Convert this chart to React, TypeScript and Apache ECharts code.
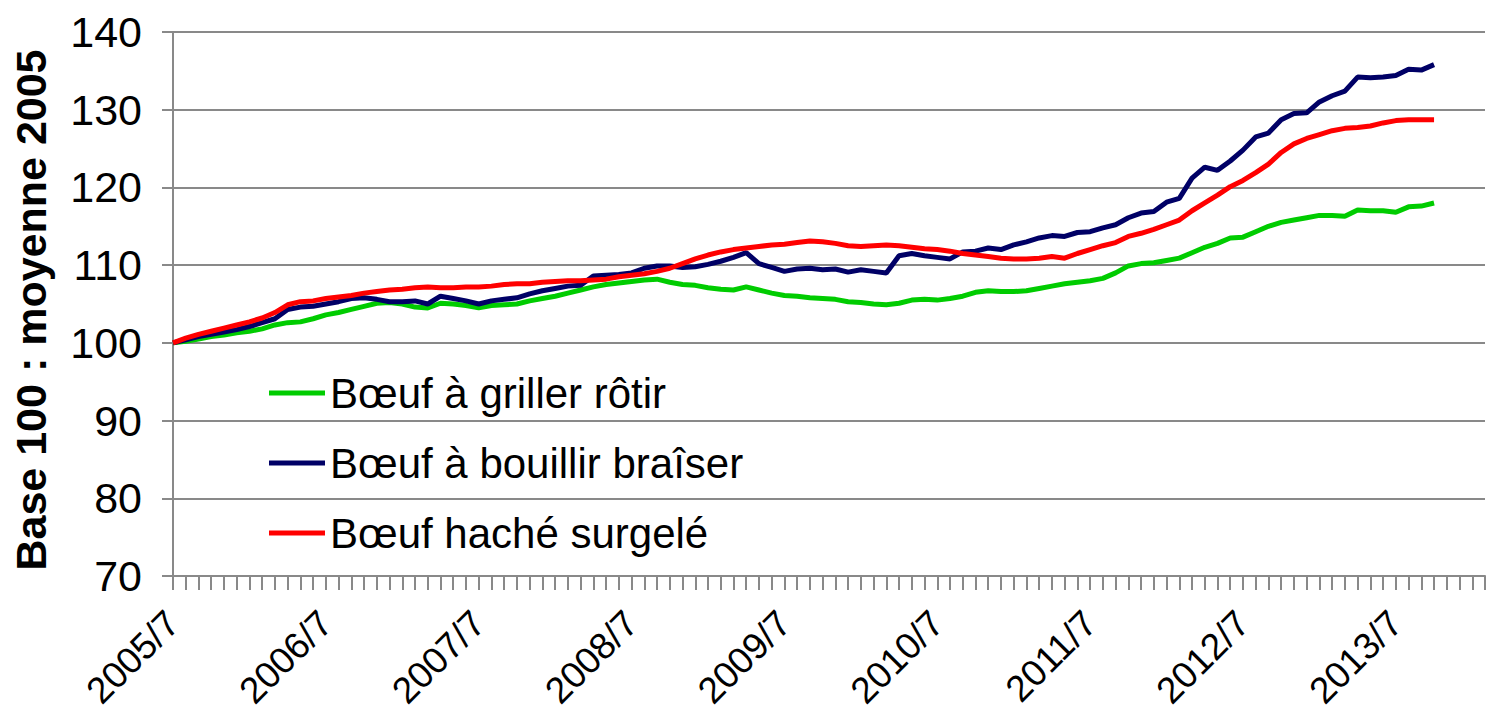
import React, { useEffect, useRef } from "react";
import * as echarts from "echarts";

// Monthly categories 2005/7 .. 2014/2
const months: string[] = [];
for (let y = 2005, m = 7; months.length < 104; ) {
  months.push(`${y}/${m}`);
  m++;
  if (m > 12) { m = 1; y++; }
}

const seriesNames = ["Bœuf à griller rôtir", "Bœuf à bouillir braîser", "Bœuf haché surgelé"];

const grillerRotir = [
  100.0, 100.2, 100.5, 100.8, 101.0, 101.3, 101.5, 101.8, 102.3, 102.6,
  102.7, 103.1, 103.6, 103.9, 104.3, 104.7, 105.1, 105.2, 105.0, 104.6,
  104.5, 105.1, 105.0, 104.8, 104.5, 104.8, 104.9, 105.0, 105.4, 105.7,
  106.0, 106.4, 106.8, 107.2, 107.5, 107.7, 107.9, 108.1, 108.2, 107.8,
  107.5, 107.4, 107.1, 106.9, 106.8, 107.2, 106.8, 106.4, 106.1, 106.0,
  105.8, 105.7, 105.6, 105.3, 105.2, 105.0, 104.9, 105.1, 105.5, 105.6,
  105.5, 105.7, 106.0, 106.5, 106.7, 106.6, 106.6, 106.7, 107.0, 107.3,
  107.6, 107.8, 108.0, 108.3, 109.0, 109.9, 110.2, 110.3, 110.6, 110.9,
  111.6, 112.3, 112.8, 113.5, 113.6, 114.3, 115.0, 115.5, 115.8, 116.1,
  116.4, 116.4, 116.3, 117.1, 117.0, 117.0, 116.8, 117.5, 117.6, 118.0,
];

const bouillirBraiser = [
  100.0, 100.4, 100.8, 101.1, 101.4, 101.7, 102.1, 102.6, 103.1, 104.3,
  104.6, 104.7, 105.0, 105.3, 105.7, 105.8, 105.6, 105.3, 105.3, 105.4,
  105.0, 106.0, 105.7, 105.4, 105.0, 105.4, 105.6, 105.8, 106.3, 106.7,
  107.0, 107.3, 107.4, 108.6, 108.7, 108.8, 109.0, 109.6, 109.9, 109.9,
  109.7, 109.8, 110.1, 110.5, 111.0, 111.6, 110.2, 109.7, 109.2, 109.5,
  109.6, 109.4, 109.5, 109.1, 109.4, 109.2, 109.0, 111.2, 111.5, 111.2,
  111.0, 110.8, 111.7, 111.8, 112.2, 112.0, 112.6, 113.0, 113.5, 113.8,
  113.7, 114.2, 114.3, 114.8, 115.2, 116.1, 116.7, 116.9, 118.1, 118.6,
  121.2, 122.6, 122.2, 123.4, 124.8, 126.5, 127.0, 128.7, 129.5, 129.6,
  131.0, 131.8, 132.4, 134.2, 134.1, 134.2, 134.4, 135.2, 135.1, 135.8,
];

const hacheSurgele = [
  100.0, 100.6, 101.1, 101.5, 101.9, 102.3, 102.7, 103.2, 103.9, 104.9,
  105.3, 105.4, 105.7, 105.9, 106.1, 106.4, 106.6, 106.8, 106.9, 107.1,
  107.2, 107.1, 107.1, 107.2, 107.2, 107.3, 107.5, 107.6, 107.6, 107.8,
  107.9, 108.0, 108.0, 108.1, 108.2, 108.5, 108.7, 108.9, 109.2, 109.6,
  110.2, 110.8, 111.3, 111.7, 112.0, 112.2, 112.4, 112.6, 112.7, 112.9,
  113.1, 113.0, 112.8, 112.5, 112.4, 112.5, 112.6, 112.5, 112.3, 112.1,
  112.0, 111.8, 111.5, 111.3, 111.1, 110.9, 110.8, 110.8, 110.9, 111.1,
  110.9, 111.5, 112.0, 112.5, 112.9, 113.7, 114.1, 114.6, 115.2, 115.8,
  117.0, 118.0, 119.0, 120.1, 120.9, 121.9, 123.0, 124.5, 125.6, 126.3,
  126.8, 127.3, 127.6, 127.7, 127.9, 128.3, 128.6, 128.7, 128.7, 128.7,
];

const colors = ["#00CC00", "#000066", "#FF0000"];
const yTitle = "Base 100 : moyenne 2005";

export default function App() {
  const ref = useRef<HTMLDivElement>(null);
  useEffect(() => {
    if (!ref.current) return;
    const chart = echarts.init(ref.current, undefined, { renderer: "svg" });
    const font = "'Liberation Sans', Arial, sans-serif";
    const gray = "#898989";
    chart.setOption({
      animation: false,
      backgroundColor: "#ffffff",
      textStyle: { fontFamily: font },
      grid: {
        left: 173,
        right: 8,
        top: 32,
        bottom: 146,
        containLabel: false,
        outerBoundsMode: "none",
      },
      legend: {
        orient: "vertical",
        left: 264,
        top: 367,
        itemWidth: 56,
        itemHeight: 5,
        itemGap: 28,
        icon: "rect",
        textStyle: { fontSize: 42, color: "#000", fontFamily: font, lineHeight: 42 },
        data: seriesNames,
      },
      xAxis: {
        type: "category",
        data: months,
        boundaryGap: false,
        axisLine: { lineStyle: { color: gray, width: 2 } },
        axisTick: { show: true, interval: 0, length: 14, lineStyle: { color: gray, width: 2 } },
        axisLabel: {
          interval: 11,
          rotate: 45,
          fontSize: 37,
          color: "#000",
          margin: 41,
          fontFamily: font,
        },
        splitLine: { show: false },
      },
      yAxis: {
        type: "value",
        min: 70,
        max: 140,
        interval: 10,
        name: yTitle,
        nameLocation: "middle",
        nameRotate: 90,
        nameGap: 121,
        nameTextStyle: {
          fontSize: 43,
          fontWeight: "bold",
          color: "#000",
          fontFamily: font,
          padding: [0, 12, 0, 0],
        },
        axisLine: { show: true, lineStyle: { color: gray, width: 2 } },
        axisTick: { show: true, length: 11, lineStyle: { color: gray, width: 2 } },
        axisLabel: { fontSize: 43, color: "#000", margin: 31, fontFamily: font },
        splitLine: { show: true, lineStyle: { color: gray, width: 2 } },
      },
      series: [
        { name: seriesNames[0], data: grillerRotir, color: colors[0] },
        { name: seriesNames[1], data: bouillirBraiser, color: colors[1] },
        { name: seriesNames[2], data: hacheSurgele, color: colors[2] },
      ].map((s) => ({
        type: "line",
        name: s.name,
        data: s.data,
        symbol: "none",
        showSymbol: false,
        lineStyle: { color: s.color, width: 5 },
        itemStyle: { color: s.color },
      })),
    });
    return () => chart.dispose();
  }, []);
  return (
    <div
      ref={ref}
      style={{ position: "fixed", left: 0, top: 0, width: 1493, height: 722 }}
    />
  );
}
